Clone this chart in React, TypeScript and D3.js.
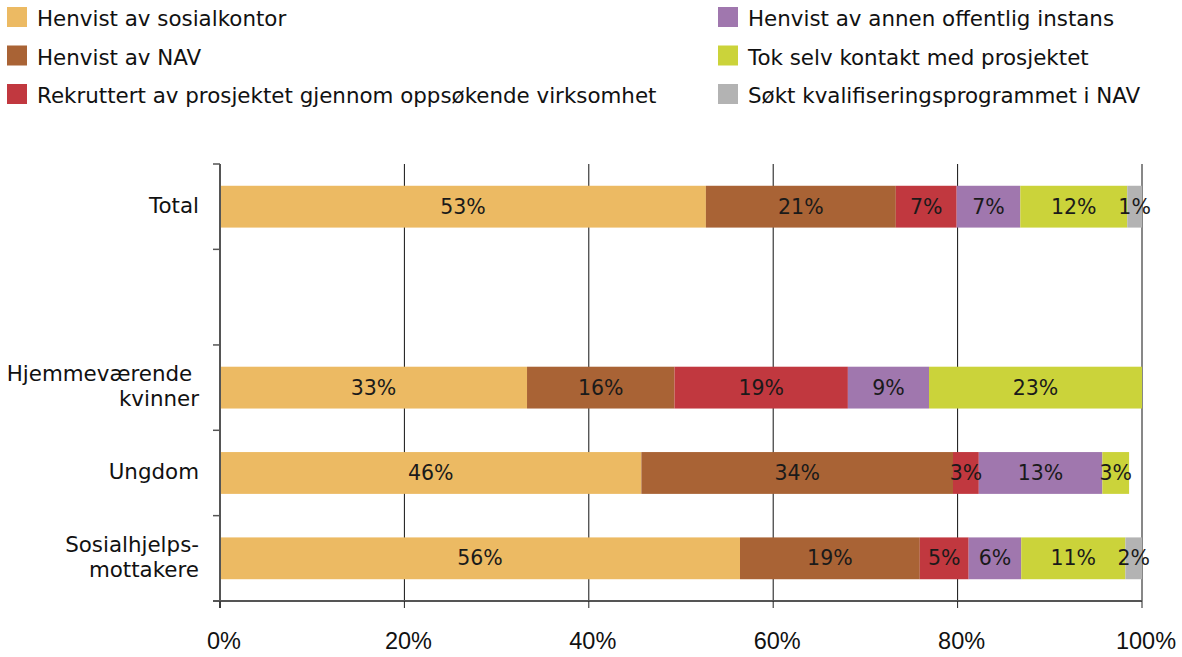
import React from "react";
import * as d3 from "d3";

// ---- data ----
const categories = ["Total", "", "Hjemmeværende \nkvinner", "Ungdom", "Sosialhjelps-\nmottakere"];
const slotWeights = [1, 1.12, 1, 1, 1];

const seriesNames = [
  "Henvist av sosialkontor",
  "Henvist av NAV",
  "Rekruttert av prosjektet gjennom oppsøkende virksomhet",
  "Henvist av annen offentlig instans",
  "Tok selv kontakt med prosjektet",
  "Søkt kvalifiseringsprogrammet i NAV",
];
const seriesColors = ["#ECBA63", "#A96335", "#C1383F", "#A077AE", "#CBD33A", "#B3B3B3"];

// segment widths (percent) as drawn
const sosialkontor = [52.7, 0, 33.3, 45.7, 56.4];
const nav = [20.6, 0, 16.0, 33.8, 19.5];
const rekruttert = [6.6, 0, 18.8, 2.8, 5.3];
const annenInstans = [6.9, 0, 8.8, 13.4, 5.7];
const tokSelv = [11.6, 0, 23.1, 2.9, 11.3];
const kvalifisering = [1.6, 0, 0, 0, 1.8];

// printed labels (percent)
const sosialkontorLabel = [53, null, 33, 46, 56];
const navLabel = [21, null, 16, 34, 19];
const rekruttertLabel = [7, null, 19, 3, 5];
const annenInstansLabel = [7, null, 9, 13, 6];
const tokSelvLabel = [12, null, 23, 3, 11];
const kvalifiseringLabel = [1, null, null, null, 2];

const xTicks = [0, 20, 40, 60, 80, 100];

const seriesValues = [sosialkontor, nav, rekruttert, annenInstans, tokSelv, kvalifisering];
const seriesLabels = [sosialkontorLabel, navLabel, rekruttertLabel, annenInstansLabel, tokSelvLabel, kvalifiseringLabel];

export default function App() {
  const W = 1182;
  const H = 657;
  const x = d3.scaleLinear().domain([0, 100]).range([220, 1142]);
  const cum = [0, ...d3.cumsum(slotWeights)];
  const y = d3.scaleLinear().domain([0, cum[cum.length - 1]]).range([164, 601]);
  const step = y(1) - y(0);
  const barH = step * 0.49;

  const rows = categories.map((c, i) => ({
    name: c,
    center: y(cum[i] + slotWeights[i] / 2),
  }));

  const stackData = categories.map((_, i) => {
    const o: any = { i };
    seriesNames.forEach((s, k) => (o[s] = seriesValues[k][i]));
    return o;
  });
  const stacked = d3.stack<any>().keys(seriesNames)(stackData);

  const textFont = "'DejaVu Sans', Verdana, sans-serif";
  const axisColor = "#555";

  const legendLeft = [0, 1, 2];
  const legendRight = [3, 4, 5];
  const legendRowY = (r: number) => 7 + r * 38.5;

  return (
    <svg
      width={W}
      height={H}
      style={{ position: "absolute", left: 0, top: 0, background: "#fff" }}
      fontFamily={textFont}
    >
      <rect x={0} y={0} width={W} height={H} fill="#fff" />
      {/* legend */}
      {[legendLeft, legendRight].map((col, ci) =>
        col.map((k, r) => (
          <g key={`lg${k}`} transform={`translate(${ci === 0 ? 7 : 718},${legendRowY(r)})`}>
            <rect width={20} height={20} fill={seriesColors[k]} />
            <text x={30} y={19} fontSize={21.4} fill="#111">
              {seriesNames[k]}
            </text>
          </g>
        ))
      )}

      {/* gridlines */}
      {xTicks.slice(1).map((t) => (
        <line key={`g${t}`} x1={x(t)} x2={x(t)} y1={y(0)} y2={y(cum[cum.length - 1])} stroke="#111" strokeWidth={1} />
      ))}

      {/* bars */}
      {stacked.map((layer, k) =>
        layer.map((d, i) => {
          const w = x(d[1]) - x(d[0]);
          if (w <= 0) return null;
          return (
            <rect
              key={`b${k}-${i}`}
              x={x(d[0])}
              y={rows[i].center - barH / 2}
              width={w}
              height={barH}
              fill={seriesColors[k]}
            />
          );
        })
      )}

      {/* bar labels */}
      {stacked.map((layer, k) =>
        layer.map((d, i) => {
          const lab = seriesLabels[k][i];
          if (lab === null || lab === undefined) return null;
          return (
            <text
              key={`l${k}-${i}`}
              x={(x(d[0]) + x(d[1])) / 2}
              y={rows[i].center + 7}
              fontSize={20.5}
              textAnchor="middle"
              fill="#1a1a1a"
            >
              {`${lab}%`}
            </text>
          );
        })
      )}

      {/* y axis */}
      <line x1={x(0)} x2={x(0)} y1={y(0)} y2={y(cum[cum.length - 1]) + 7} stroke={axisColor} strokeWidth={2} />
      {cum.map((c, i) => (
        <line key={`yt${i}`} x1={x(0) - 7} x2={x(0)} y1={y(c)} y2={y(c)} stroke={axisColor} strokeWidth={1.5} />
      ))}
      {rows.map((r, i) => {
        if (!r.name) return null;
        const lines = r.name.split("\n");
        const lh = 25;
        return (
          <text key={`yl${i}`} fontSize={21.4} textAnchor="end" fill="#111" style={{ whiteSpace: "pre" }}>
            {lines.map((ln, j) => (
              <tspan key={j} x={199} y={r.center + 6 + (j - (lines.length - 1) / 2) * lh} xmlSpace="preserve">
                {ln}
              </tspan>
            ))}
          </text>
        );
      })}

      {/* x axis */}
      <line x1={x(0) - 7} x2={x(100)} y1={y(cum[cum.length - 1])} y2={y(cum[cum.length - 1])} stroke={axisColor} strokeWidth={2} />
      {xTicks.map((t) => (
        <line key={`xt${t}`} x1={x(t)} x2={x(t)} y1={y(cum[cum.length - 1])} y2={y(cum[cum.length - 1]) + 7} stroke="#222" strokeWidth={1} />
      ))}
      {xTicks.map((t) => (
        <text
          key={`xl${t}`}
          x={x(t) + 4}
          y={649}
          fontSize={23.5}
          textAnchor="middle"
          fill="#111"
          fontFamily="'Liberation Sans', Arial, sans-serif"
        >
          {`${t}%`}
        </text>
      ))}
    </svg>
  );
}
